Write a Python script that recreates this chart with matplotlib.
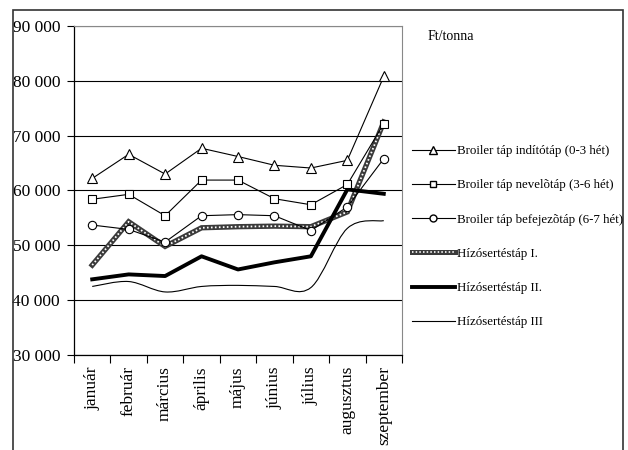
#Monthly feed prices (Ft/tonna) - line chart recreated with matplotlib

import numpy as np
import matplotlib
matplotlib.use('Agg')
import matplotlib.pyplot as plt
from matplotlib.path import Path
from matplotlib.patches import PathPatch, Rectangle
from matplotlib.lines import Line2D
from matplotlib.legend_handler import HandlerTuple

plt.rcParams['font.family'] = ['Liberation Serif', 'DejaVu Serif']

months = ['január', 'február', 'március', 'április', 'május', 'június',
          'július', 'augusztus', 'szeptember']

broiler_indito = [62200, 66600, 63000, 67700, 66200, 64600, 64100, 65500, 80800]
broiler_nevelo = [58400, 59300, 55400, 61900, 61900, 58500, 57400, 61100, 72200]
broiler_befejezo = [53700, 52900, 50600, 55400, 55600, 55400, 52700, 57000, 65800]
hizo_1 = [46400, 54300, 49800, 53200, 53400, 53500, 53400, 56100, 72500]
hizo_2 = [43800, 44700, 44400, 48000, 45600, 46900, 48000, 60200, 59400]
hizo_3 = [42500, 43400, 41500, 42500, 42700, 42500, 42300, 53100, 54500]

labels = ['Broiler táp indítótáp (0-3 hét)',
          'Broiler táp nevelõtáp (3-6 hét)',
          'Broiler táp befejezõtáp (6-7 hét)',
          'Hízósertéstáp I.',
          'Hízósertéstáp II.',
          'Hízósertéstáp III']

yticks = [30000, 40000, 50000, 60000, 70000, 80000, 90000]


#smooth curve through the points (Catmull-Rom as cubic bezier, like Excel smoothing)
def smooth_path(xs, ys):
    pts = np.column_stack([xs, ys]).astype(float)
    verts = [pts[0]]
    codes = [Path.MOVETO]
    n = len(pts)
    for i in range(n - 1):
        p0 = pts[i - 1] if i > 0 else pts[i]
        p1 = pts[i]
        p2 = pts[i + 1]
        p3 = pts[i + 2] if i + 2 < n else pts[i + 1]
        c1 = p1 + (p2 - p0) / 6.0
        c2 = p2 - (p3 - p1) / 6.0
        verts += [c1, c2, p2]
        codes += [Path.CURVE4] * 3
    return Path(verts, codes)


fig = plt.figure(figsize=(6.28, 4.5), dpi=100)
ax = fig.add_axes([74 / 628, 1 - 355 / 450, 328 / 628, 329 / 450])

x = np.arange(len(months))

ax.plot(x, broiler_indito, color='black', lw=0.8, marker='^', ms=7,
        mfc='white', mec='black', mew=0.8, zorder=5)
ax.plot(x, broiler_nevelo, color='black', lw=0.8, marker='s', ms=6,
        mfc='white', mec='black', mew=0.8, zorder=5)
ax.plot(x, broiler_befejezo, color='black', lw=0.8, marker='o', ms=6,
        mfc='white', mec='black', mew=0.8, zorder=5)

# hatched looking thick line
ax.plot(x, hizo_1, color='#3a3a3a', lw=3.8, solid_joinstyle='miter', zorder=4)
ax.plot(x, hizo_1, color='white', lw=1.3, dashes=(0.9, 1.3), zorder=4)

ax.plot(x, hizo_2, color='black', lw=2.8, zorder=4)

ax.add_patch(PathPatch(smooth_path(x, hizo_3), facecolor='none',
                       edgecolor='black', lw=0.8, zorder=4))

ax.set_xlim(-0.5, len(months) - 0.5)
ax.set_ylim(30000, 90000)
ax.set_yticks(yticks)
ax.set_yticklabels([f'{v // 1000} 000' for v in yticks], fontsize=12.5)
ax.tick_params(axis='y', length=5, width=0.8, pad=5, direction='out')

ax.set_xticks(np.arange(-0.5, len(months), 1))
ax.set_xticklabels([])
ax.tick_params(axis='x', which='major', length=6, width=0.8, direction='out')
ax.set_xticks(x, minor=True)
ax.set_xticklabels(months, minor=True, rotation=90, fontsize=12.5)
ax.tick_params(axis='x', which='minor', length=0, pad=8)

ax.grid(axis='y', color='black', lw=0.8)
ax.set_axisbelow(True)
for side in ['top', 'right']:
    ax.spines[side].set_color('#888888')
    ax.spines[side].set_linewidth(0.8)
for side in ['left', 'bottom']:
    ax.spines[side].set_color('black')
    ax.spines[side].set_linewidth(0.9)

# legend
h1_base = Line2D([], [], color='#3a3a3a', lw=3.6)
h1_dash = Line2D([], [], color='white', lw=1.2, dashes=(0.9, 1.3))
handles = [
    Line2D([], [], color='black', lw=0.8, marker='^', ms=6, mfc='white', mec='black'),
    Line2D([], [], color='black', lw=0.8, marker='s', ms=5, mfc='white', mec='black'),
    Line2D([], [], color='black', lw=0.8, marker='o', ms=5, mfc='white', mec='black'),
    (h1_base, h1_dash),
    Line2D([], [], color='black', lw=2.8),
    Line2D([], [], color='black', lw=0.8),
]
fig.legend(handles, labels, loc='upper left', bbox_to_anchor=(412 / 628, 1 - 145 / 450),
           frameon=False, fontsize=9.3, handlelength=3.3, handletextpad=0.15,
           labelspacing=1.72, borderaxespad=0, borderpad=0,
           handler_map={tuple: HandlerTuple(ndivide=1)})

fig.text(428 / 628, 1 - 37 / 450, 'Ft/tonna', fontsize=10, va='center')

# outer frame (bottom edge falls outside the picture)
fig.patches.append(Rectangle((13 / 628, -0.05), 610 / 628, 1.05 - 10 / 450,
                             transform=fig.transFigure, fill=False,
                             edgecolor='#333333', lw=1.2))

fig.savefig('out.png', dpi=100)
